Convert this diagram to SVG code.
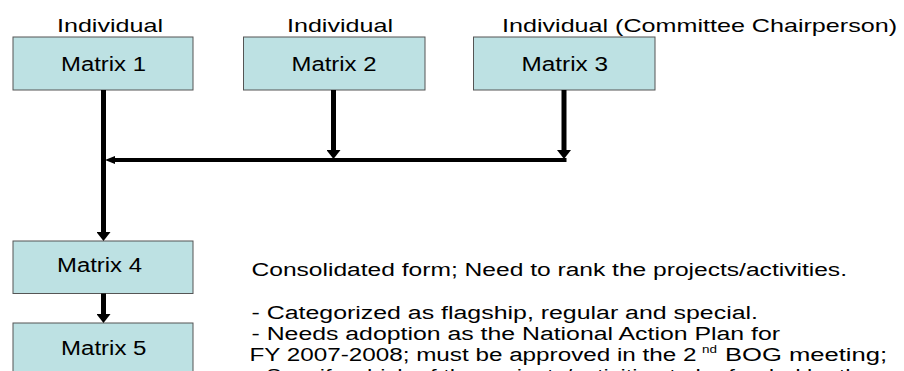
<svg xmlns="http://www.w3.org/2000/svg" width="904" height="371" viewBox="0 0 904 371">
<style>
.box{fill:#bde1e3;stroke:#555;stroke-width:1}
.t{font-family:"Liberation Sans",Arial,sans-serif;fill:#000}
.lbl{font-size:18.5px}
.nt{font-size:19.5px}
.desc{font-size:18px}
.ln{stroke:#000;fill:none}
</style>
<defs>
<marker id="ah" markerUnits="userSpaceOnUse" viewBox="0 0 9 14" refX="0" refY="7" markerWidth="9" markerHeight="14" orient="auto">
<path d="M0,0 L9,7 L0,14 Z" fill="#000"/>
</marker>
<marker id="ah2" markerUnits="userSpaceOnUse" viewBox="0 0 10 8" refX="0" refY="4" markerWidth="10" markerHeight="8" orient="auto">
<path d="M0,0 L10,4 L0,8 Z" fill="#000"/>
</marker>
</defs>
<g id="labels">
<text class="t lbl" x="57" y="31.5" textLength="106" lengthAdjust="spacingAndGlyphs">Individual</text>
<text class="t lbl" x="287" y="31.5" textLength="106" lengthAdjust="spacingAndGlyphs">Individual</text>
<text class="t lbl" x="502" y="31.5" textLength="395" lengthAdjust="spacingAndGlyphs">Individual (Committee Chairperson)</text>
</g>
<g id="matrix1">
<rect class="box" x="13" y="37" width="180" height="53"/>
<text class="t nt" x="61" y="70.5" textLength="85" lengthAdjust="spacingAndGlyphs">Matrix 1</text>
</g>
<g id="matrix2">
<rect class="box" x="243.5" y="37" width="181.5" height="53"/>
<text class="t nt" x="291.5" y="70.5" textLength="85" lengthAdjust="spacingAndGlyphs">Matrix 2</text>
</g>
<g id="matrix3">
<rect class="box" x="473.5" y="37" width="181.5" height="53"/>
<text class="t nt" x="521.5" y="70.5" textLength="86.5" lengthAdjust="spacingAndGlyphs">Matrix 3</text>
</g>
<g id="matrix4">
<rect class="box" x="13" y="241" width="180" height="52.5"/>
<text class="t nt" x="57" y="271.5" textLength="85" lengthAdjust="spacingAndGlyphs">Matrix 4</text>
</g>
<g id="matrix5">
<rect class="box" x="13" y="323" width="180" height="60"/>
<text class="t nt" x="61" y="355" textLength="85.5" lengthAdjust="spacingAndGlyphs">Matrix 5</text>
</g>
<g id="connectors">
<line class="ln" x1="103.5" y1="90" x2="103.5" y2="232" stroke-width="5" marker-end="url(#ah)"/>
<line class="ln" x1="333.5" y1="90" x2="333.5" y2="150" stroke-width="5" marker-end="url(#ah)"/>
<line class="ln" x1="564" y1="90" x2="564" y2="150" stroke-width="5" marker-end="url(#ah)"/>
<line class="ln" x1="566.5" y1="160" x2="115" y2="160" stroke-width="4" marker-end="url(#ah2)"/>
<line class="ln" x1="103.5" y1="293.5" x2="103.5" y2="314" stroke-width="5" marker-end="url(#ah)"/>
</g>
<g id="notes">
<text class="t desc" x="251.5" y="276" textLength="595.5" lengthAdjust="spacingAndGlyphs">Consolidated form; Need to rank the projects/activities.</text>
<text class="t desc" x="251.5" y="319" textLength="506.5" lengthAdjust="spacingAndGlyphs">- Categorized as flagship, regular and special.</text>
<text class="t desc" x="251.5" y="340" textLength="528.5" lengthAdjust="spacingAndGlyphs">- Needs adoption as the National Action Plan for</text>
<text class="t desc" y="361"><tspan x="249.5" textLength="447" lengthAdjust="spacingAndGlyphs">FY 2007-2008; must be approved in the 2</tspan><tspan x="702" dy="-8" font-size="11" textLength="15" lengthAdjust="spacingAndGlyphs">nd</tspan><tspan x="725" dy="8" textLength="162" lengthAdjust="spacingAndGlyphs">BOG meeting;</tspan></text>
<text class="t desc" x="251.5" y="382" textLength="620" lengthAdjust="spacingAndGlyphs">- Specify which of the projects/activities to be funded by the</text>
</g>
</svg>
